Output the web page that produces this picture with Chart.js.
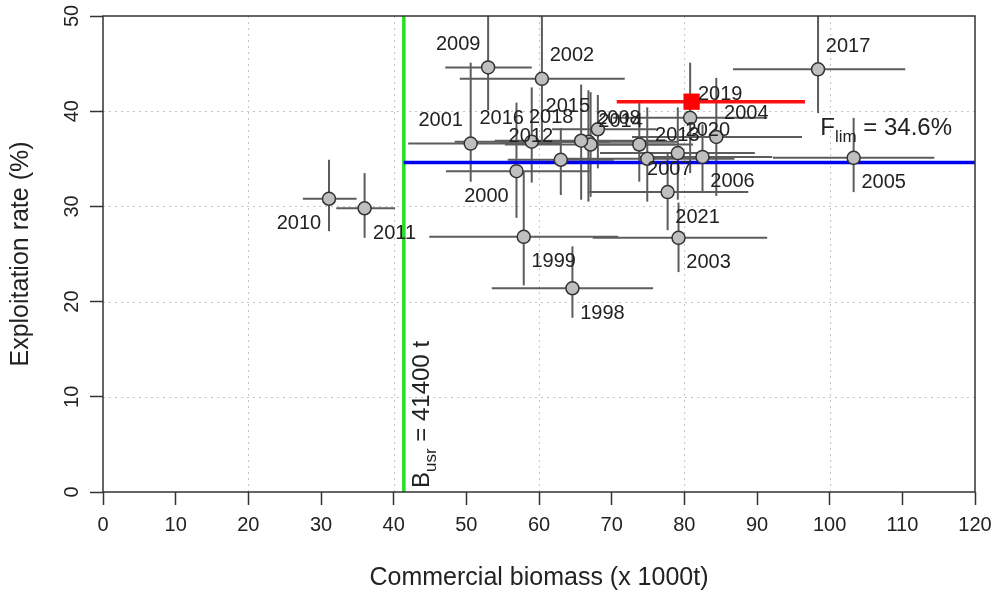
<!DOCTYPE html>
<html>
<head>
<meta charset="utf-8">
<script src="https://cdn.jsdelivr.net/npm/chart.js@4.4.0/dist/chart.umd.min.js"></script>
<style>
  html, body { margin: 0; padding: 0; background: #fff; }
  #wrap { width: 995px; height: 595px; }
</style>
</head>
<body>
<div id="wrap"><canvas id="chart" width="995" height="595"></canvas></div>
<script>
const years    = [1998, 1999, 2000, 2001, 2002, 2003, 2004, 2005, 2006, 2007, 2008, 2009,
                  2010, 2011, 2012, 2013, 2014, 2015, 2016, 2017, 2018, 2019, 2020, 2021];
// commercial biomass (x 1000t) with lower / upper bounds
const biomass  = [64.6, 57.9, 56.9, 50.6, 60.4, 79.2, 84.4, 103.3, 82.5, 73.8, 66.8, 53.0,
                  31.1, 36.0, 63.0, 74.9, 67.1, 68.1, 59.0, 98.4, 65.8, 80.8, 79.1, 77.7];
const bioLow   = [53.5, 44.9, 47.2, 42.0, 49.1, 67.4, 72.8, 92.2, 73.9, 66.3, 54.6, 47.1,
                  27.5, 32.1, 55.7, 63.9, 55.3, 61.8, 48.4, 86.7, 53.9, 70.2, 68.4, 66.9];
const bioHigh  = [75.7, 70.9, 67.0, 62.9, 71.8, 91.4, 96.2, 114.4, 92.1, 81.2, 79.1, 59.0,
                  34.9, 40.2, 70.3, 86.9, 78.7, 76.2, 69.8, 110.4, 77.6, 91.4, 89.7, 88.8];
// exploitation rate (%) with lower / upper bounds
const exploit  = [21.4, 26.8, 33.7, 36.6, 43.4, 26.7, 37.3, 35.1, 35.2, 36.5, 36.8, 44.6,
                  30.8, 29.8, 34.9, 35.0, 36.5, 38.1, 36.8, 44.4, 36.9, 39.3, 35.6, 31.5];
const expLow   = [18.3, 21.7, 28.8, 32.6, 36.8, 23.1, 31.1, 31.5, 31.4, 32.6, 30.5, 40.1,
                  27.4, 26.7, 31.2, 30.5, 31.0, 34.0, 32.5, 39.8, 30.7, 33.5, 30.7, 27.5];
const expHigh  = [25.8, 33.7, 40.9, 45.1, 50.5, 30.4, 43.5, 39.3, 38.6, 41.0, 42.2, 50.5,
                  34.9, 33.5, 38.2, 40.4, 42.0, 41.7, 42.5, 50.5, 42.8, 45.1, 40.4, 35.5];
// where each year label sits around its point: tl, tr, bl, br
const labelSide = ['br', 'br', 'bl', 'tl', 'tr', 'br', 'tr', 'br', 'br', 'br', 'tr', 'tl',
                   'bl', 'br', 'tl', 'tr', 'tr', 'tl', 'tl', 'tr', 'tl', 'tr', 'tr', 'br'];

// latest estimate (red square) and its interval
const currentX = [81.0];
const currentY = [41.0];
const currentXRange = [70.7, 96.6];

// reference points
const bUsr = 41.4;   // x 1000 t
const fLim = 34.6;   // %

const xTicks = [0, 10, 20, 30, 40, 50, 60, 70, 80, 90, 100, 110, 120];
const yTicks = [0, 10, 20, 30, 40, 50];
const xGrid = [20, 40, 60, 80, 100];
const yGrid = [10, 20, 30, 40];

const FONT = '"Liberation Sans", Arial, Helvetica, sans-serif';
const offsets = { tl: [-30, -23], tr: [30, -23], bl: [-30, 25], br: [30, 25] };

function seg(ctx, x1, y1, x2, y2) {
  ctx.beginPath();
  ctx.moveTo(x1, y1);
  ctx.lineTo(x2, y2);
  ctx.stroke();
}

function subText(ctx, x, y, main, sub, rest) {
  ctx.font = '24px ' + FONT;
  ctx.fillText(main, x, y);
  let w = ctx.measureText(main).width;
  ctx.font = '17px ' + FONT;
  ctx.fillText(sub, x + w, y + 7);
  w += ctx.measureText(sub).width;
  ctx.font = '24px ' + FONT;
  ctx.fillText(rest, x + w, y);
}

const extras = {
  id: 'extras',
  beforeDatasetsDraw(chart) {
    const { ctx, chartArea: a, scales: { x, y } } = chart;
    ctx.save();
    ctx.beginPath();
    ctx.rect(a.left, a.top, a.right - a.left, a.bottom - a.top);
    ctx.clip();
    // dotted grid
    ctx.strokeStyle = '#c4c4c4';
    ctx.lineWidth = 1;
    ctx.setLineDash([2, 4]);
    xGrid.forEach(v => { const p = Math.round(x.getPixelForValue(v)) + 0.5; seg(ctx, p, a.top, p, a.bottom); });
    yGrid.forEach(v => { const p = Math.round(y.getPixelForValue(v)) + 0.5; seg(ctx, a.left, p, a.right, p); });
    ctx.setLineDash([]);
    // error bars
    ctx.strokeStyle = '#5c5c5c';
    ctx.lineWidth = 2;
    years.forEach((yr, i) => {
      const px = x.getPixelForValue(biomass[i]);
      const py = y.getPixelForValue(exploit[i]);
      seg(ctx, x.getPixelForValue(bioLow[i]), py, x.getPixelForValue(bioHigh[i]), py);
      seg(ctx, px, y.getPixelForValue(expLow[i]), px, y.getPixelForValue(expHigh[i]));
    });
    ctx.restore();
  },
  afterDatasetsDraw(chart) {
    const { ctx, chartArea: a, scales: { x, y } } = chart;
    ctx.save();
    ctx.fillStyle = '#222';
    // year labels
    ctx.font = '20px ' + FONT;
    ctx.textAlign = 'center';
    ctx.textBaseline = 'middle';
    years.forEach((yr, i) => {
      const o = offsets[labelSide[i]];
      ctx.fillText(String(yr), x.getPixelForValue(biomass[i]) + o[0], y.getPixelForValue(exploit[i]) + o[1]);
    });
    // reference point labels
    ctx.textAlign = 'left';
    ctx.textBaseline = 'alphabetic';
    subText(ctx, x.getPixelForValue(98.7), y.getPixelForValue(fLim) - 28, 'F', 'lim', ' = 34.6%');
    ctx.save();
    ctx.translate(x.getPixelForValue(bUsr) + 25, a.bottom - 4);
    ctx.rotate(-Math.PI / 2);
    subText(ctx, 0, 0, 'B', 'usr', ' = 41400 t');
    ctx.restore();
    // box
    ctx.strokeStyle = '#333';
    ctx.lineWidth = 1.5;
    ctx.strokeRect(a.left, a.top, a.right - a.left, a.bottom - a.top);
    // y tick labels (rotated, R style)
    ctx.font = '20px ' + FONT;
    ctx.textAlign = 'center';
    ctx.textBaseline = 'middle';
    yTicks.forEach(v => {
      ctx.save();
      ctx.translate(72, y.getPixelForValue(v));
      ctx.rotate(-Math.PI / 2);
      ctx.fillText(String(v), 0, 0);
      ctx.restore();
    });
    // axis titles
    ctx.font = '25px ' + FONT;
    ctx.save();
    ctx.translate(21, (a.top + a.bottom) / 2);
    ctx.rotate(-Math.PI / 2);
    ctx.fillText('Exploitation rate (%)', 0, 0);
    ctx.restore();
    ctx.fillText('Commercial biomass (x 1000t)', (a.left + a.right) / 2, 578);
    ctx.restore();
  }
};

new Chart(document.getElementById('chart'), {
  type: 'scatter',
  data: {
    datasets: [
      {
        data: currentX.map((v, i) => ({ x: v, y: currentY[i] })),
        pointStyle: 'rect',
        pointRadius: 11.5,
        backgroundColor: '#ff0000',
        borderWidth: 0,
        order: 0
      },
      {
        data: biomass.map((v, i) => ({ x: v, y: exploit[i] })),
        pointRadius: 6.5,
        backgroundColor: '#bfbfbf',
        borderColor: '#333',
        borderWidth: 1.5,
        order: 1
      },
      {
        type: 'line',
        data: [{ x: currentXRange[0], y: currentY[0] }, { x: currentXRange[1], y: currentY[0] }],
        borderColor: '#ff1010',
        borderWidth: 3.5,
        pointRadius: 0,
        order: 2
      },
      {
        type: 'line',
        data: [{ x: bUsr, y: fLim }, { x: 120, y: fLim }],
        borderColor: '#0000ee',
        borderWidth: 3.5,
        pointRadius: 0,
        order: 3
      },
      {
        type: 'line',
        data: [{ x: bUsr, y: 0 }, { x: bUsr, y: 50 }],
        borderColor: '#22e022',
        borderWidth: 3.5,
        pointRadius: 0,
        order: 4
      }
    ]
  },
  options: {
    responsive: false,
    animation: false,
    devicePixelRatio: 1,
    layout: { padding: { top: 16, right: 20, left: 0, bottom: 0 } },
    plugins: { legend: { display: false }, tooltip: { enabled: false } },
    scales: {
      x: {
        type: 'linear',
        min: 0,
        max: 120,
        afterBuildTicks: s => { s.ticks = xTicks.map(v => ({ value: v })); },
        afterFit: s => { s.height = 103; s.paddingLeft = 0; s.paddingRight = 0; },
        border: { display: false },
        grid: { drawOnChartArea: false, drawTicks: true, tickLength: 13, tickColor: '#333', tickWidth: 1.5 },
        ticks: { font: { family: FONT, size: 20 }, color: '#222', padding: 8, maxRotation: 0, autoSkip: false }
      },
      y: {
        type: 'linear',
        min: 0,
        max: 50,
        afterBuildTicks: s => { s.ticks = yTicks.map(v => ({ value: v })); },
        afterFit: s => { s.width = 103; s.paddingTop = 0; s.paddingBottom = 0; },
        border: { display: false },
        grid: { drawOnChartArea: false, drawTicks: true, tickLength: 13, tickColor: '#333', tickWidth: 1.5 },
        ticks: { display: false }
      }
    }
  },
  plugins: [extras]
});
</script>
</body>
</html>
